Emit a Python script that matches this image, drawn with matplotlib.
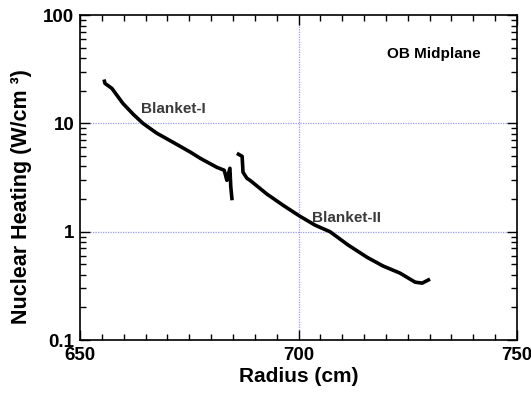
import numpy as np
import matplotlib.pyplot as plt
from matplotlib.ticker import MultipleLocator, LogLocator, FixedLocator, FixedFormatter

# Blanket-I segment
r_b1 = [655.5, 655.7, 657.3, 659.8, 662.2, 664.4, 667.5, 671.3, 675.2,
        677.5, 681.3, 683.0, 683.6, 684.3, 684.5, 684.8]
h_b1 = [25.4, 23.4, 21.0, 15.3, 12.1, 10.0, 8.14, 6.68, 5.44,
        4.76, 3.93, 3.69, 2.98, 3.85, 2.6, 1.95]

# Blanket-II segment
r_b2 = [685.9, 687.1, 687.3, 688.2, 688.9, 692.8, 696.5, 700.3, 703.8,
        707.2, 711.4, 715.7, 719.4, 723.2, 726.7, 728.3, 730.1]
h_b2 = [5.29, 4.96, 3.54, 3.11, 2.98, 2.22, 1.75, 1.39, 1.148,
        1.0, 0.751, 0.58, 0.481, 0.415, 0.342, 0.335, 0.365]

x_ticks = [650, 700, 750]
y_ticks = [0.1, 1, 10, 100]
y_ticklabels = ['0.1', '1', '10', '100']

plt.rcParams['font.family'] = ['Liberation Sans', 'DejaVu Sans']
plt.rcParams['font.weight'] = 'bold'

fig = plt.figure(figsize=(5.31, 3.95), dpi=100)
ax = fig.add_axes([0.1507, 0.1392, 0.8229, 0.8228])

grid_kw = dict(color='#9a9aee', lw=0.9, ls=(0, (1, 1)), zorder=1)
ax.axhline(10, **grid_kw)
ax.axhline(1, **grid_kw)
ax.axvline(700, **grid_kw)

ax.plot(r_b1, h_b1, color='black', lw=2.6, solid_capstyle='butt', zorder=3)
ax.plot(r_b2, h_b2, color='black', lw=2.6, solid_capstyle='butt', zorder=3)

ax.set_yscale('log')
ax.set_xlim(650, 750)
ax.set_ylim(0.1, 100)

ax.xaxis.set_major_locator(FixedLocator(x_ticks))
ax.xaxis.set_minor_locator(MultipleLocator(5))
ax.yaxis.set_major_locator(FixedLocator(y_ticks))
ax.yaxis.set_major_formatter(FixedFormatter(y_ticklabels))
ax.yaxis.set_minor_locator(LogLocator(base=10, subs=np.arange(2, 10)))

ax.tick_params(which='both', direction='in', top=True, right=True,
               labelsize=13.5, width=1.0)
ax.tick_params(axis='y', which='major', length=7, pad=4)
ax.tick_params(axis='x', which='major', length=7, pad=5)
ax.tick_params(which='minor', length=4)
for lab in ax.get_xticklabels() + ax.get_yticklabels():
    lab.set_fontweight('bold')
for sp in ax.spines.values():
    sp.set_linewidth(1.2)

ax.set_xlabel('Radius (cm)', fontsize=15, fontweight='bold', labelpad=2)
ax.set_ylabel('Nuclear Heating (W/cm \u00b3)', fontsize=15.5,
              fontweight='bold')
ax.yaxis.set_label_coords(-0.11, 0.44)

ax.text(664.0, 12.4, 'Blanket-I', fontsize=11, fontweight='bold',
        color='#3a3a3a', va='baseline')
ax.text(703.1, 1.22, 'Blanket-II', fontsize=11, fontweight='bold',
        color='#3a3a3a', va='baseline')
ax.text(720.3, 39.7, 'OB Midplane', fontsize=11, fontweight='bold',
        color='black', va='baseline')

fig.savefig('out.png', dpi=100)
